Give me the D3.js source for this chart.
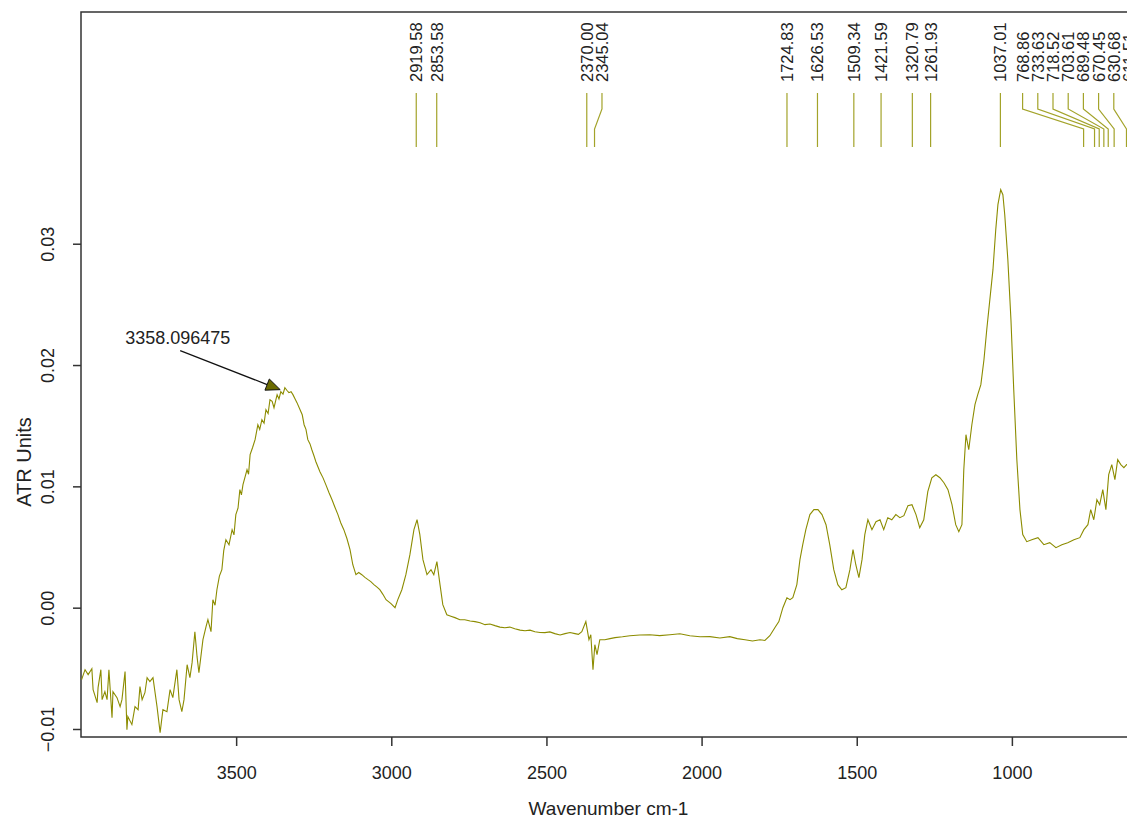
<!DOCTYPE html>
<html>
<head>
<meta charset="utf-8">
<script src="https://d3js.org/d3.v7.min.js"></script>
<style>
  body { margin: 0; background: #fff; }
  svg text { font-family: "Liberation Sans", Arial, sans-serif; fill: #222; }
</style>
</head>
<body>
<div id="chart"></div>
<script>
// spectrum (wavenumber cm-1, ATR units)
var wavenumber = [3998,3987,3977,3965,3961,3948,3945,3936,3932,3923,3916,3910,3900,3897,3884,3874,3868,3858,3852,3849,3836,3826,3816,3810,3803,3794,3787,3778,3768,3755,3745,3736,3723,3713,3704,3691,3684,3675,3668,3658,3649,3642,3633,3626,3620,3607,3597,3591,3581,
  3575,3568,3562,3554,3546,3540,3533,3523,3513,3507,3501,3494,3488,3483,3478,3471,3465,3460,3455,3447,3439,3430,3424,3417,3410,3404,3397,3391,3384,3378,3368,3362,3356,3349,3343,3336,3330,3323,3317,3310,3304,3294,3287,3281,3275,3269,3262,3256,3249,3243,3230,3220,3211,3201,3191,3182,3172,3163,3153,3143,3133,3124,3114,3105,3095,3085,3075,3066,3056,3046,3037,3027,3017,3009,3001,2988,
  2979,2966,2953,2940,2927,2917,2908,2898,2885,2872,2863,2853,2843,2834,2821,2808,2795,2779,2763,2746,2730,2714,2698,2682,2666,2650,2634,2618,2602,2585,2569,2553,2537,2521,2505,2489,2473,2456,2440,2424,2408,2397,2386,2373,2363,2357,2350,2344,2337,2328,2312,2295,2279,2255,2231,2199,2167,2135,2102,2070,2038,2005,1973,1941,1909,1885,1860,1836,1812,1796,1780,1764,1751,1738,1725,1715,1706,1693,
  1683,1674,1664,1651,1638,1625,1612,1599,1587,1574,1561,1548,1535,1522,1512,1503,1493,1483,1474,1464,1451,1438,1425,1413,1400,1387,1374,1361,1348,1335,1322,1309,1297,1284,1271,1258,1245,1232,1219,1206,1193,1181,1171,1161,1155,1148,1139,1129,1119,1110,1100,1090,1081,1071,1061,1052,1045,1036,1029,1023,1013,1003,994,984,974,965,952,936,916,897,878,858,839,820,800,781,768,755,746,736,726,717,707,697,688,678,668,659,649,639,630,600];
var absorbance = [-0.00593,-0.00511,-0.00552,-0.00503,-0.00676,-0.00783,-0.00659,-0.00511,-0.00758,-0.00692,-0.00758,-0.00511,-0.00907,-0.00692,-0.00742,-0.00816,-0.00758,-0.00527,-0.01006,-0.00898,-0.00964,-0.00816,-0.00841,-0.00651,-0.00758,-0.00701,-0.00577,-0.00610,-0.00577,-0.00816,-0.01030,-0.00841,-0.00857,-0.00676,-0.00742,-0.00511,-0.00758,-0.00857,-0.00758,-0.00470,-0.00577,-0.00453,-0.00198,-0.00404,-0.00536,-0.00264,-0.00157,-0.00099,-0.00198,
  0.00066,0.00020,0.00148,0.00260,0.00313,0.00470,0.00560,0.00519,0.00643,0.00600,0.00767,0.00820,0.00973,0.00930,0.01014,0.01080,0.01137,0.01100,0.01261,0.01320,0.01385,0.01508,0.01470,0.01549,0.01520,0.01632,0.01600,0.01714,0.01700,0.01648,0.01756,0.01720,0.01780,0.01760,0.01813,0.01790,0.01772,0.01780,0.01756,0.01720,0.01690,0.01632,0.01590,0.01508,0.01470,0.01385,0.01350,0.01302,0.01250,0.01203,0.01121,0.01070,0.01014,0.00950,0.00890,0.00830,0.00767,0.00700,0.00643,0.00570,0.00478,0.00354,0.00272,0.00290,0.00272,0.00250,0.00231,0.00215,0.00190,0.00170,0.00148,0.00110,0.00066,0.00050,0.00033,0,
  0.00066,0.00148,0.00272,0.00437,0.00643,0.00725,0.00602,0.00396,0.00272,0.00313,0.00272,0.00379,0.00190,0.00025,-0.00058,-0.00070,-0.00082,-0.00100,-0.00099,-0.00110,-0.00115,-0.00125,-0.00140,-0.00135,-0.00148,-0.00160,-0.00165,-0.00160,-0.00173,-0.00185,-0.00190,-0.00185,-0.00198,-0.00205,-0.00206,-0.00200,-0.00214,-0.00225,-0.00214,-0.00205,-0.00214,-0.00220,-0.00198,-0.00115,-0.00264,-0.00223,-0.00511,-0.00305,-0.00387,-0.00264,-0.00264,-0.00255,-0.00247,-0.00240,-0.00231,-0.00225,-0.00223,-0.00230,-0.00223,-0.00215,-0.00231,-0.00240,-0.00239,-0.00250,-0.00239,-0.00255,-0.00264,-0.00275,-0.00264,-0.00270,-0.00231,-0.00165,-0.00115,0,0.00082,0.00066,0.00082,0.00190,
  0.00396,0.00519,0.00643,0.00767,0.00808,0.00808,0.00767,0.00684,0.00519,0.00313,0.00190,0.00148,0.00165,0.00313,0.00478,0.00354,0.00247,0.00396,0.00602,0.00725,0.00643,0.00709,0.00725,0.00643,0.00742,0.00725,0.00767,0.00742,0.00758,0.00841,0.00849,0.00767,0.00659,0.00725,0.00956,0.01071,0.01096,0.01071,0.01030,0.00973,0.00849,0.00684,0.00626,0.00684,0.01137,0.01426,0.01302,0.01508,0.01673,0.01756,0.01838,0.02044,0.02291,0.02539,0.02786,0.03115,0.03322,0.03445,0.03404,0.03239,0.02868,0.02374,0.01797,0.01220,0.00808,0.00602,0.00544,0.00560,0.00577,0.00519,0.00536,0.00495,0.00519,0.00536,0.00560,0.00577,0.00643,0.00684,0.00808,0.00725,0.00890,0.00849,0.00973,0.00808,0.01096,0.01179,0.01055,0.01220,0.01179,0.01154,0.01179,0.01179];

var peakPositions = [2919.58, 2853.58, 2370.00, 2345.04, 1724.83, 1626.53, 1509.34, 1421.59, 1320.79, 1261.93, 1037.01, 768.86, 733.63, 718.52, 703.61, 689.48, 670.45, 630.68, 611.51];
var xTicks = [3500, 3000, 2500, 2000, 1500, 1000];
var yTicks = [-0.01, 0.00, 0.01, 0.02, 0.03];
var annotWave = 3358.096475, annotValue = 0.01797;

var W = 1127, H = 821;
var mLeft = 81, mTop = 12, mRight = 1136, mBottom = 737;
var lineColor = "#8c8c00";

var svg = d3.select("#chart").append("svg").attr("width", W).attr("height", H);

var x = d3.scaleLinear().domain([4000, 600]).range([mLeft, mRight]);
var y = d3.scaleLinear().domain([-0.01066, 0.0491]).range([mBottom, mTop]);

// frame
svg.append("rect")
  .attr("x", mLeft).attr("y", mTop)
  .attr("width", mRight - mLeft).attr("height", mBottom - mTop)
  .attr("fill", "none").attr("stroke", "#333").attr("stroke-width", 1.5);

// x axis
var xAxis = svg.append("g").attr("transform", "translate(0," + mBottom + ")")
  .call(d3.axisBottom(x).tickValues(xTicks).tickSize(9).tickPadding(20).tickFormat(d3.format("d")));
xAxis.select(".domain").remove();
xAxis.selectAll("line").attr("stroke", "#333").attr("stroke-width", 1.5);
xAxis.selectAll("text").attr("font-size", 18).style("font-family", "Liberation Sans, Arial").attr("fill", "#222");

// y axis, labels rotated
var yAxis = svg.append("g").attr("transform", "translate(" + mLeft + ",0)")
  .call(d3.axisLeft(y).tickValues(yTicks).tickSize(8).tickFormat(d3.format(".2f")));
yAxis.select(".domain").remove();
yAxis.selectAll("line").attr("stroke", "#333").attr("stroke-width", 1.5);
yAxis.selectAll("text")
  .attr("font-size", 18).style("font-family", "Liberation Sans, Arial").attr("fill", "#222")
  .attr("text-anchor", "middle").attr("x", null).attr("dy", null)
  .attr("transform", "translate(-27,0) rotate(-90)");

svg.append("text").attr("font-size", 19).attr("text-anchor", "middle")
  .attr("transform", "translate(" + ((mLeft + mRight) / 2) + ",815)")
  .text("Wavenumber cm-1");
svg.append("text").attr("font-size", 20).attr("text-anchor", "middle")
  .attr("transform", "translate(31,462) rotate(-90)")
  .text("ATR Units");

// spectrum
var pts = wavenumber.map(function(w, i) { return [w, absorbance[i]]; });
svg.append("clipPath").attr("id", "plotclip").append("rect")
  .attr("x", mLeft).attr("y", mTop).attr("width", mRight - mLeft).attr("height", mBottom - mTop);
svg.append("path")
  .datum(pts)
  .attr("clip-path", "url(#plotclip)")
  .attr("fill", "none").attr("stroke", lineColor).attr("stroke-width", 1.1)
  .attr("d", d3.line().x(function(d) { return x(d[0]); }).y(function(d) { return y(d[1]); }));

// peak labels, spread so they don't overlap
var gap = 15.2;
var px = peakPositions.map(function(p) { return x(p); });
var lx = px.slice();
for (var i = 1; i < lx.length; i++) lx[i] = Math.max(lx[i], lx[i - 1] + gap);
lx[lx.length - 1] = Math.min(lx[lx.length - 1], mRight - 7);
for (var i = lx.length - 2; i >= 0; i--) lx[i] = Math.min(lx[i], lx[i + 1] - gap);

var peaks = svg.append("g");
peakPositions.forEach(function(p, i) {
  var d = Math.abs(lx[i] - px[i]) < 0.5
    ? "M" + px[i] + ",93V147"
    : "M" + lx[i] + ",93V109L" + px[i] + ",129V147";
  peaks.append("path").attr("d", d).attr("fill", "none")
    .attr("stroke", "#a3a32a").attr("stroke-width", 1.2);
  peaks.append("text")
    .attr("transform", "translate(" + lx[i] + ",82) rotate(-90)")
    .attr("dy", "0.36em").attr("font-size", 16.5)
    .text(p.toFixed(2));
});

// annotation arrow on the OH band
var tx = x(annotWave), ty = y(annotValue);
var sx = tx - 100, sy = ty - 39;
var ang = Math.atan2(ty - sy, tx - sx);
var hl = 14, hw = 6;
var bx = tx - hl * Math.cos(ang), by = ty - hl * Math.sin(ang);
svg.append("line").attr("x1", sx).attr("y1", sy).attr("x2", bx).attr("y2", by)
  .attr("stroke", "#111").attr("stroke-width", 1.2);
svg.append("path")
  .attr("d", "M" + tx + "," + ty + "L" + (bx + hw * Math.sin(ang)) + "," + (by - hw * Math.cos(ang)) +
    "L" + (bx - hw * Math.sin(ang)) + "," + (by + hw * Math.cos(ang)) + "Z")
  .attr("fill", "#6b6b00").attr("stroke", "#111").attr("stroke-width", 1);
svg.append("text").attr("x", sx - 55).attr("y", sy - 7).attr("font-size", 18)
  .text("3358.096475");
</script>
</body>
</html>
